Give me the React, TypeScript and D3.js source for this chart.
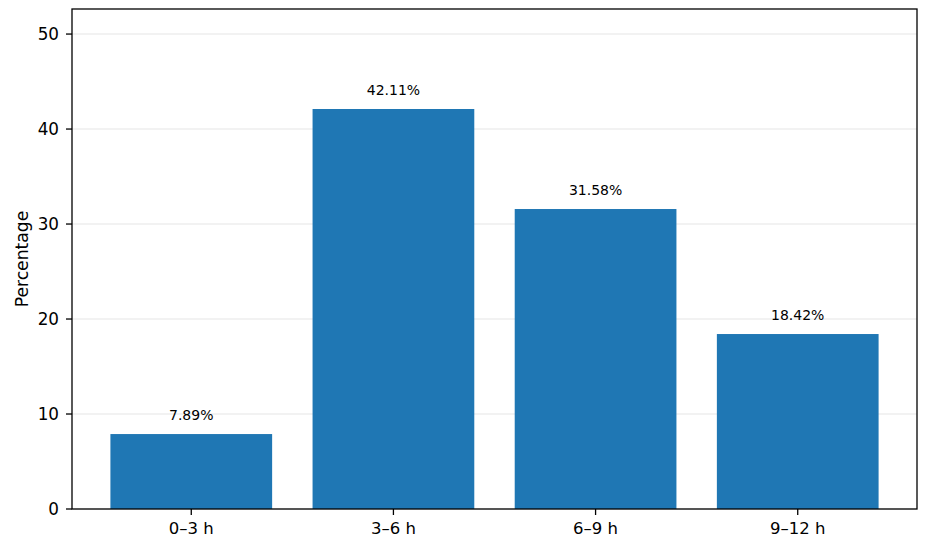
import React from "react";
import * as d3 from "d3";

const categories = ["0–3 h", "3–6 h", "6–9 h", "9–12 h"];
const values = [7.89, 42.11, 31.58, 18.42];
const yTicks = [0, 10, 20, 30, 40, 50];

const W = 930;
const H = 549;
const M = { left: 72, right: 917, top: 9, bottom: 509 };
const FONT = "DejaVu Sans, sans-serif";

export default function App() {
  const n = categories.length;
  const x = d3
    .scaleLinear()
    .domain([-0.4 - 0.05 * (n - 0.2), n - 1 + 0.4 + 0.05 * (n - 0.2)])
    .range([M.left, M.right]);
  const yMax = (d3.max(values) as number) * 1.25;
  const y = d3.scaleLinear().domain([0, yMax]).range([M.bottom, M.top]);
  const bw = x(0.8) - x(0);

  return (
    <svg width={W} height={H} style={{ position: "absolute", left: 0, top: 0, background: "#fff" }}>
      <rect x={0} y={0} width={W} height={H} fill="#fff" />
      {yTicks.map((t) => (
        <line key={"g" + t} x1={M.left} x2={M.right} y1={y(t)} y2={y(t)} stroke="#e6e6e6" strokeWidth={1.1} />
      ))}
      {values.map((v, i) => (
        <rect key={"b" + i} x={x(i) - bw / 2} y={y(v)} width={bw} height={y(0) - y(v)} fill="#1f77b4" />
      ))}
      {values.map((v, i) => (
        <text key={"l" + i} x={x(i)} y={y(v) - 14} textAnchor="middle" fontFamily={FONT} fontSize={14} fill="#000">
          {v.toFixed(2) + "%"}
        </text>
      ))}
      <rect x={M.left} y={M.top} width={M.right - M.left} height={M.bottom - M.top} fill="none" stroke="#000" strokeWidth={1.3} />
      {yTicks.map((t) => (
        <g key={"y" + t}>
          <line x1={M.left - 6} x2={M.left} y1={y(t)} y2={y(t)} stroke="#000" strokeWidth={1.3} />
          <text x={M.left - 13} y={y(t)} dy="0.36em" textAnchor="end" fontFamily={FONT} fontSize={16.8} fill="#000">
            {t}
          </text>
        </g>
      ))}
      {categories.map((c, i) => (
        <g key={"x" + i}>
          <line x1={x(i)} x2={x(i)} y1={M.bottom} y2={M.bottom + 6} stroke="#000" strokeWidth={1.3} />
          <text x={x(i)} y={M.bottom + 25} textAnchor="middle" fontFamily={FONT} fontSize={16.5} fill="#000">
            {c}
          </text>
        </g>
      ))}
      <text
        transform={`translate(27.5,${(M.top + M.bottom) / 2}) rotate(-90)`}
        textAnchor="middle"
        fontFamily={FONT}
        fontSize={17.2}
        fill="#000"
      >
        Percentage
      </text>
    </svg>
  );
}
